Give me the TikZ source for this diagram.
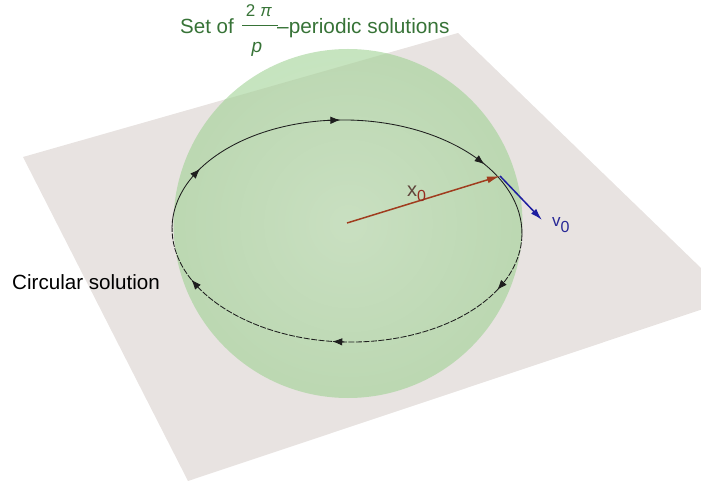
\documentclass[tikz,border=0pt]{standalone}
\usepackage{fontspec}
\setmainfont{Liberation Sans}
\usetikzlibrary{arrows.meta,fadings}
\tikzfading[name=centerglow, inner color=transparent!0, outer color=transparent!100]
\definecolor{planec}{RGB}{232,227,225}
\definecolor{spherec}{RGB}{160,210,148}
\definecolor{titlegreen}{RGB}{55,115,55}
\definecolor{xbrown}{RGB}{160,60,30}
\definecolor{xlab}{RGB}{150,45,30}
\definecolor{xgray}{RGB}{95,70,60}
\definecolor{vblue}{RGB}{30,30,160}
\definecolor{vlab}{RGB}{40,40,150}
\definecolor{orbitc}{RGB}{30,30,30}
\newcommand{\fsz}[1]{\fontsize{#1}{#1}\selectfont}
\begin{document}
\begin{tikzpicture}[x=1pt,y=-1pt,
  orbitline/.style={draw=orbitc,line width=0.85pt},
  orbitdash/.style={orbitline,dash pattern=on 6pt off 1.5pt},
  orbitarrow/.style={draw=orbitc,line width=0.85pt,-{Latex[length=10pt,width=7.5pt]}},
  xvec/.style={draw=xbrown,line width=1.5pt,-{Latex[length=13pt,width=7pt]}},
  vvec/.style={draw=vblue,line width=1.5pt,-{Latex[length=12pt,width=7pt]}},
  lab/.style={inner sep=0pt,anchor=base west}]
\useasboundingbox (0,0) rectangle (701,486);
\clip (0,0) rectangle (701,486);
% plane
\fill[planec] (23,157) -- (458,33) -- (733,299) -- (188,481) -- cycle;
% sphere
\fill[spherec,fill opacity=0.6] (348,223.5) circle (174.5);
\fill[white,fill opacity=0.2,path fading=centerglow] (348,223.5) circle (174.5);
% orbit (circular solution)
\begin{scope}[rotate around={-1.3:(347,231)}]
\draw[orbitline] (522,231) arc[start angle=0,end angle=-180,x radius=175,y radius=111];
\draw[orbitdash] (522,231) arc[start angle=0,end angle=180,x radius=175,y radius=111];
\foreach \t in {30,94,152,212,267,321}{
  \draw[orbitarrow] ({347+175*cos(\t-4)},{231+111*sin(\t-4)}) -- ({347+175*cos(\t)},{231+111*sin(\t)});
}
\end{scope}
% vectors
\coordinate (O) at (347,223);
\coordinate (X) at (500,176);
\coordinate (V) at (542,220);
\draw[xvec] (O) -- (X);
\draw[vvec] (X) -- (V);
\node[lab] (xl) at (407,197) {\fsz{20}\textcolor{xgray}{x}\raisebox{-5pt}{\fsz{16}\textcolor{xlab}{0}}};
\node[lab,text=vlab] (vl) at (552,227) {\fsz{17}v\raisebox{-6pt}{\fsz{16}0}};
% labels
\node[lab] (circ) at (12,289) {\fsz{20.6}Circular solution};
\node[lab,text=titlegreen] (set) at (180,34) {\fsz{20.5}Set of};
\node[inner sep=0pt,anchor=base,text=titlegreen] (num) at (259,17) {\fsz{17}2\hspace{5pt}\textit{π}};
\node[inner sep=0pt,anchor=base,text=titlegreen] (den) at (257,53) {\fsz{19}\textit{p}};
\draw[titlegreen,line width=1pt] (242,26) -- (278,26);
\node[lab,text=titlegreen] (per) at (277,34) {\fsz{20.8}–periodic solutions};
\end{tikzpicture}
\end{document}
